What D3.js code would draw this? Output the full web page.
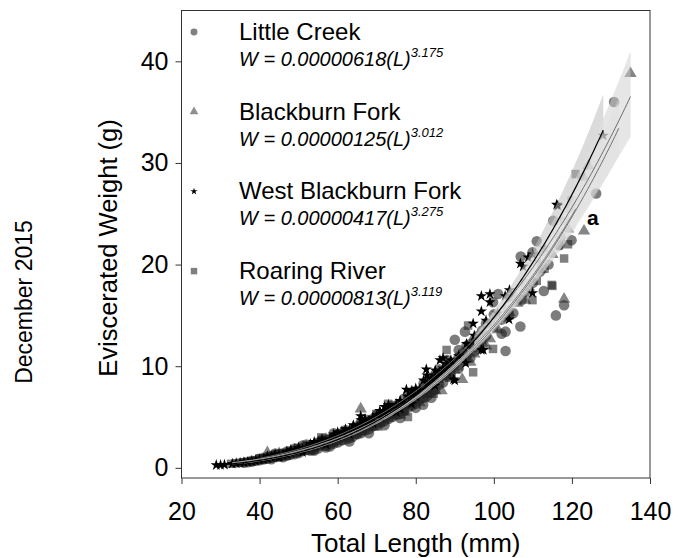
<!DOCTYPE html>
<html>
<head>
<meta charset="utf-8">
<script src="https://cdn.jsdelivr.net/npm/d3@7"></script>
<style>
  html, body { margin: 0; padding: 0; background: #fff; }
  svg { display: block; font-family: "Liberation Sans", Arial, Helvetica, sans-serif; }
</style>
</head>
<body>
<svg id="chart" width="683" height="558"></svg>
<script>
// Length–weight data, December 2015: [total length (mm), eviscerated weight (g)]
const littleCreek = [
  [36,0.5],[37,0.55],[38,0.6],[38,0.7],[39,0.7],[40,0.75],[40,0.9],[41,0.85],[41,1.0],[42,0.9],
  [42,1.05],[43,1.0],[43,0.85],[43,1.15],[44,1.1],[44,1.25],[44,1.4],[45,1.1],[45,1.25],[45,1.35],
  [46,1.2],[46,1.4],[46,1.05],[47,1.35],[47,1.2],[47,1.6],[48,1.45],[48,1.3],[48,1.65],[49,1.5],
  [49,1.35],[49,1.9],[50,1.6],[50,1.75],[50,1.45],[51,2.2],[51,1.7],[51,1.95],[52,1.8],[52,2.0],
  [52,2.3],[53,1.95],[53,1.7],[53,2.2],[54,2.1],[54,1.85],[54,1.7],[55,2.2],[55,1.9],[55,2.45],
  [56,2.3],[56,2.6],[56,2.8],[57,2.5],[57,2.2],[57,2.0],[57,2.75],[58,2.6],[58,2.3],[58,2.1],
  [59,3.4],[59,2.7],[59,2.4],[59,3.0],[60,2.8],[60,2.5],[60,3.3],[61,3.0],[61,3.3],[61,2.7],
  [62,3.2],[62,2.8],[62,3.7],[63,3.4],[63,2.9],[63,2.6],[64,3.5],[64,3.1],[64,3.9],[65,3.7],
  [65,3.3],[65,4.1],[66,3.9],[66,3.4],[66,4.5],[66,3.6],[67,4.1],[67,3.7],[68,4.2],[68,3.8],
  [68,3.4],[69,4.4],[69,4.8],[69,4.1],[70,4.6],[70,4.2],[70,5.2],[71,4.8],[71,4.4],[71,5.1],
  [72,5.0],[72,4.6],[72,4.2],[73,5.3],[73,4.8],[73,5.7],[74,5.5],[74,5.0],[74,6.1],[74,5.3],
  [75,5.7],[75,5.2],[76,5.9],[76,5.3],[76,4.9],[76,6.3],[77,6.2],[77,5.6],[77,6.8],[78,6.5],
  [78,5.9],[78,7.2],[79,6.8],[79,6.1],[79,7.4],[80,7.0],[80,6.3],[80,5.9],[81,7.6],[81,6.7],
  [81.9,6.2],[82,7.5],[82,6.9],[82,8.3],[83,7.8],[83,7.1],[83,8.6],[84,8.2],[84,7.4],[84,6.9],
  [85,8.5],[85,7.7],[85,9.2],[86,8.9],[86,9.7],[86,8.2],[87,9.2],[87,8.4],[88,9.8],[88,9.0],
  [88,10.6],[89,10.2],[89,9.3],[90,12.6],[90,10.4],[91,10.9],[91,9.8],[91,11.6],[92,11.3],[92.6,13.4],
  [93,11.0],[93,12.0],[94,12.2],[94,10.8],[95,12.6],[95,11.5],[96,13.0],[96,12.1],[97,13.5],[98,13.0],
  [98,14.2],[99.8,16.3],[100,14.0],[100,15.1],[101.1,17.1],[102,14.6],[102,13.2],[103,13.4],[103,11.5],[103.7,15.5],
  [104.1,16.8],[105,15.2],[105,16.8],[106.8,13.9],[106.9,20.8],[107.1,16.5],[108,17.3],[109.9,21.2],[110,18.2],[111,22.3],
  [111.8,19.3],[112.8,17.4],[114,20.0],[115.2,24.3],[115.9,15.0],[116.7,21.9],[117,22.7],[118,16.0],[119.9,22.4],[126.2,27.0],
  [130.8,36.0]
];
const blackburnFork = [
  [40,0.7],[42,1.5],[43,0.9],[44,1.2],[45,1.1],[45,1.4],[46,1.15],[47,1.3],[47,1.5],[48,1.5],
  [49,1.5],[49,1.75],[50,1.5],[50,1.9],[51,1.7],[52,1.75],[52,2.05],[53,1.9],[53,1.6],[54,2.2],
  [55,2.1],[55,2.4],[56,2.0],[57,2.4],[57,2.8],[58,2.8],[58,2.5],[59,2.7],[60,2.6],[60,3.2],
  [61,3.0],[61,3.5],[62,3.4],[63,3.3],[63,2.9],[64,3.2],[64,3.8],[65.9,5.8],[66,3.6],[66,4.3],
  [67,4.0],[67,4.6],[68,4.0],[69,4.1],[69,4.7],[70,4.4],[70,4.0],[71,4.8],[72,4.8],[72,5.4],
  [73,4.9],[73,5.6],[74,5.2],[75,5.8],[75,6.2],[76,5.7],[76,5.2],[77,5.5],[78,6.2],[78,6.8],
  [79,6.7],[79,7.2],[80,6.6],[81,6.4],[81,7.5],[82,7.3],[82,6.8],[83,7.9],[84,7.8],[84,8.6],
  [85,7.6],[86.6,7.6],[87,9.0],[87,9.6],[88,9.0],[89,8.8],[90,9.6],[91.9,8.7],[92,10.5],[93,10.8],
  [94,10.4],[95,11.2],[96,12.2],[97,12.3],[98,12.0],[99,12.7],[101,13.6],[103,15.0],[104,15.3],[106,16.2],
  [108,16.5],[109,17.8],[112,19.5],[113,21.2],[115,21.0],[118,16.6],[119,23.5],[122.9,28.6],[123.1,23.3],[124.2,29.7],
  [135,38.8]
];
const westBlackburnFork = [
  [28.9,0.27],[30,0.28],[31,0.3],[33,0.4],[34,0.45],[35,0.5],[36,0.55],[37,0.6],[38,0.65],[39,0.72],
  [40,0.8],[41,0.85],[42,0.95],[42,1.15],[43,1.05],[44,1.1],[44,1.3],[45,1.25],[45,1.05],[46,1.3],
  [47,1.35],[47,1.55],[48,1.5],[48,1.75],[49,1.65],[50,1.75],[50,1.95],[51,1.8],[51,1.55],[52,1.95],
  [53,2.1],[53,2.35],[54,2.2],[54,2.55],[55,2.35],[56,2.5],[56,2.8],[57,2.6],[57,2.3],[58,2.8],
  [59,3.0],[59,3.3],[60,3.1],[60,3.5],[61,3.2],[62,3.4],[62,3.8],[63,3.7],[63,3.3],[64,3.8],
  [64,4.2],[65,4.0],[65.9,5.1],[66,4.2],[66,4.7],[67,4.4],[67,4.8],[68,4.6],[69,4.9],[69,4.4],
  [70,5.2],[70.8,5.6],[71,5.0],[72,5.4],[72,6.0],[73,6.2],[73,5.7],[74,5.9],[75,6.2],[75,5.5],
  [76,5.8],[76,6.6],[77,6.4],[77.6,7.7],[78,7.0],[78.9,6.3],[79,7.2],[79,7.6],[80,7.0],[80,7.8],
  [81,7.7],[82,8.6],[82.7,9.7],[82.9,9.1],[83,8.3],[84,8.8],[84.9,8.1],[85,9.0],[85,9.6],[86,9.4],
  [86.2,10.6],[87,10.8],[87,9.8],[88,9.5],[88,10.2],[89,10.6],[89.7,8.7],[90,8.6],[91,11.0],[92.8,10.3],
  [93,12.2],[94.7,14.2],[95,13.0],[96.8,16.9],[96.8,15.4],[96.8,11.6],[97.3,11.6],[98,14.5],[99,17.1],[99,16.3],
  [101,15.2],[102.9,16.9],[103.9,14.6],[104,17.5],[106.8,20.1],[107.5,19.8],[108.8,20.7],[109.9,17.2],[110,21.0],[111.8,20.2],
  [113.1,21.6],[116.1,25.9],[116.4,25.8],[128,32.7]
];
const roaringRiver = [
  [32.7,0.4],[34,0.45],[35,0.5],[36,0.55],[37,0.6],[38,0.65],[39,0.7],[40,0.8],[40,0.95],[41,0.85],
  [42,0.95],[43,1.0],[43,1.15],[44,1.1],[44,1.3],[45,1.15],[46,1.25],[46,1.45],[47,1.35],[47,1.2],
  [48,1.45],[49,1.55],[49,1.75],[50,1.65],[50,1.95],[51,1.8],[52,1.9],[52,2.15],[53,2.0],[53,1.75],
  [54,2.1],[55,2.5],[55.8,3.0],[56,2.3],[56,2.7],[57,2.5],[58,2.6],[58,2.9],[59,2.75],[59,2.5],
  [60,2.9],[61,3.1],[61,3.4],[62,3.2],[62,3.6],[63,3.4],[64,3.6],[64,3.9],[65,3.7],[65,3.4],
  [66,4.0],[67,4.2],[67,4.5],[68,4.3],[68,4.8],[69,4.5],[69.9,5.3],[70,4.7],[70,5.0],[71,4.9],
  [71,4.5],[72.9,6.3],[73,5.2],[73,5.6],[74,5.4],[74,6.0],[75,5.7],[76,5.9],[76,6.3],[77,6.0],
  [77,5.6],[78,5.0],[79,6.9],[79,6.5],[80,6.8],[80,7.4],[81,7.2],[82,7.4],[82,7.9],[83,7.8],
  [83,7.3],[84.6,7.3],[85,8.3],[85,8.9],[86,8.8],[87.9,11.6],[88,9.3],[88,10.0],[89,9.4],[90,10.2],
  [91,10.0],[92,10.8],[93.4,14.0],[94.7,9.4],[95,12.0],[96,11.8],[97,12.6],[99.8,11.7],[100,13.8],[101,14.5],
  [103,14.8],[104,15.0],[106,16.6],[108,18.2],[109.9,16.5],[111,18.4],[113,19.6],[114.8,18.0],[115,17.9],[116.7,21.9],
  [118,24.3],[118,20.6],[119,22.0],[119.5,25.5],[119.9,26.3],[121,28.9]
];

// Site names, legend equation text and power-curve fits W = a·L^b
const siteNames = ["Little Creek", "Blackburn Fork", "West Blackburn Fork", "Roaring River"];
const coefLabels = ["0.00000618", "0.00000125", "0.00000417", "0.00000813"];
const expLabels = ["3.175", "3.012", "3.275", "3.119"];
const fitA = [0.00000618, 0.0000140, 0.00000417, 0.00000813];
const fitB = [3.175, 3.012, 3.275, 3.119];
const fitMin = [36, 40, 29, 33];
const fitMax = [132, 135, 128, 121];
// Confidence band half-width on the log scale: base + spread·(ln L − ln 70)²
const bandBase = [0.009, 0.011, 0.009, 0.009];
const bandSpread = [0.19, 0.24, 0.25, 0.21];

const xTicks = [20, 40, 60, 80, 100, 120, 140];
const yTicks = [0, 10, 20, 30, 40];

const siteData = [littleCreek, blackburnFork, westBlackburnFork, roaringRiver];

const svg = d3.select("#chart");
const frame = { left: 181.5, right: 650, top: 10.5, bottom: 478 };

const x = d3.scaleLinear().domain([20, 140]).range([frame.left, frame.right]);
const y = d3.scaleLinear().domain([-1, 45]).range([frame.bottom, frame.top]);

// Marker shapes per site
const symbolTypes = [d3.symbolCircle, d3.symbolTriangle, d3.symbolStar, d3.symbolSquare];
const symbolSizes = [88, 66, 40, 72];
const pointFill = ["#1e1e1e", "#262626", "#000", "#222"];
const pointOpacity = [0.58, 0.56, 1, 0.58];

const plot = svg.append("g");

// Fitted curves with confidence bands
const fitLine = i => {
  const lens = d3.range(fitMin[i], fitMax[i] + 0.001, 0.5);
  if (lens[lens.length - 1] < fitMax[i]) lens.push(fitMax[i]);
  return lens.map(L => {
    const w = fitA[i] * Math.pow(L, fitB[i]);
    const h = bandBase[i] + bandSpread[i] * Math.pow(Math.log(L) - Math.log(70), 2);
    return { L, w, lo: w * Math.exp(-h), hi: w * Math.exp(h) };
  });
};

const bandFill = ["#d4d4d4", "#d0d0d0", "#b8b8b8", "#d4d4d4"];
const bandOpacity = [0.55, 0.55, 0.65, 0.55];
const lineColor = ["#6e6e6e", "#6e6e6e", "#000", "#7a7a7a"];
const lineWidth = [1, 1, 1.2, 1];

const area = d3.area().x(d => x(d.L)).y0(d => y(d.lo)).y1(d => y(d.hi));
const line = d3.line().x(d => x(d.L)).y(d => y(d.w));

// Bands sit under the points
[0, 1, 3, 2].forEach(i => {
  plot.append("path")
    .datum(fitLine(i))
    .attr("d", area)
    .attr("fill", bandFill[i])
    .attr("fill-opacity", bandOpacity[i]);
});

// Scatter points (grey sites first, stars on top)
[0, 1, 3, 2].forEach(i => {
  plot.append("g")
    .selectAll("path")
    .data(siteData[i])
    .join("path")
    .attr("transform", d => `translate(${x(d[0])},${y(d[1])})`)
    .attr("d", d3.symbol().type(symbolTypes[i]).size(symbolSizes[i]))
    .attr("fill", pointFill[i])
    .attr("fill-opacity", pointOpacity[i]);
});

// Light veil of the upper bands over the points
[0, 1, 3, 2].forEach(i => {
  plot.append("path")
    .datum(fitLine(i).filter(d => d.L >= 95))
    .attr("d", area)
    .attr("fill", "#e6e6e6")
    .attr("fill-opacity", 0.45);
});

// Fit lines with a pale halo
[0, 3].forEach(i => {
  plot.append("path")
    .datum(fitLine(i))
    .attr("d", line)
    .attr("fill", "none")
    .attr("stroke", "#e4e4e4")
    .attr("stroke-opacity", 0.75)
    .attr("stroke-width", 2.2);
});
[0, 1, 3, 2].forEach(i => {
  plot.append("path")
    .datum(fitLine(i))
    .attr("d", line)
    .attr("fill", "none")
    .attr("stroke", lineColor[i])
    .attr("stroke-width", lineWidth[i]);
});

// Frame
svg.append("rect")
  .attr("x", frame.left).attr("y", frame.top)
  .attr("width", frame.right - frame.left).attr("height", frame.bottom - frame.top)
  .attr("fill", "none").attr("stroke", "#333").attr("stroke-width", 1);

// Axes
const xAxis = svg.append("g")
  .attr("transform", `translate(0,${frame.bottom})`)
  .call(d3.axisBottom(x).tickValues(xTicks).tickSize(6).tickSizeOuter(0).tickPadding(18));
const yAxis = svg.append("g")
  .attr("transform", `translate(${frame.left},0)`)
  .call(d3.axisLeft(y).tickValues(yTicks).tickSize(6).tickSizeOuter(0).tickPadding(7));

[xAxis, yAxis].forEach(ax => {
  ax.select(".domain").remove();
  ax.selectAll(".tick line").attr("stroke", "#333");
  ax.selectAll(".tick text")
    .attr("fill", "#000")
    .style("font-size", "25px")
    .style("font-family", "'Liberation Sans', Arial, sans-serif");
});

// Axis titles
svg.append("text")
  .attr("x", (frame.left + frame.right) / 2).attr("y", 552)
  .attr("text-anchor", "middle")
  .style("font-size", "26px")
  .text("Total Length (mm)");

svg.append("text")
  .attr("transform", "translate(117,248) rotate(-90)")
  .attr("text-anchor", "middle")
  .style("font-size", "25.5px")
  .text("Eviscerated Weight (g)");

svg.append("text")
  .attr("transform", "translate(32,302) rotate(-90)")
  .attr("text-anchor", "middle")
  .style("font-size", "23px")
  .text("December 2015");

// Significance letter
svg.append("text")
  .attr("x", 587).attr("y", 225)
  .style("font-size", "21px")
  .style("font-weight", "bold")
  .text("a");

// Legend
const legendMarkerSize = [38, 34, 16, 42];
const legendFill = ["#808080", "#909090", "#000", "#808080"];
const legend = svg.append("g");
siteNames.forEach((name, i) => {
  const base = 40 + i * 79.7;
  legend.append("path")
    .attr("transform", `translate(194,${base - 8})`)
    .attr("d", d3.symbol().type(symbolTypes[i]).size(legendMarkerSize[i]))
    .attr("fill", legendFill[i]);
  legend.append("text")
    .attr("x", 239).attr("y", base)
    .style("font-size", "24px")
    .text(name);
  const eq = legend.append("text")
    .attr("x", 239).attr("y", base + 26)
    .style("font-size", "20px")
    .style("font-style", "italic");
  eq.append("tspan").text(`W = ${coefLabels[i]}(L)`);
  eq.append("tspan").attr("dy", -9).style("font-size", "13px").text(expLabels[i]);
});
</script>
</body>
</html>
